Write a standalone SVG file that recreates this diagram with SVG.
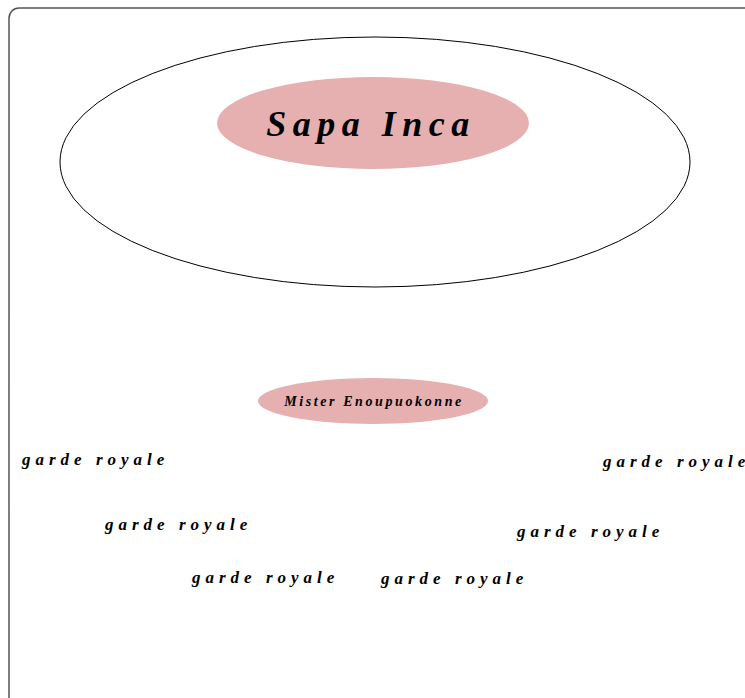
<svg xmlns="http://www.w3.org/2000/svg" width="745" height="698" viewBox="0 0 745 698">
<style>
.frame{fill:#fff;stroke:#555;stroke-width:1.5}
.outer{fill:none;stroke:#000;stroke-width:1}
.pink{fill:#e6b0b0;stroke:none}
.t{font-family:"Liberation Serif","DejaVu Serif",serif;font-style:italic;font-weight:bold;fill:#000}
.g{font-size:17px;letter-spacing:5px}
</style>
<rect width="745" height="698" fill="#fff"/>
<rect class="frame" x="9" y="8" width="760" height="720" rx="10" ry="10"/>
<g id="group-sapa">
<ellipse class="outer" cx="375" cy="162" rx="315" ry="125"/>
</g>
<g id="sapa-inca">
<ellipse class="pink" cx="373" cy="123" rx="156" ry="46"/>
<text class="t" x="371" y="136" font-size="36" letter-spacing="6.5" text-anchor="middle">Sapa Inca</text>
</g>
<g id="mister">
<ellipse class="pink" cx="373" cy="401" rx="115" ry="23"/>
<text class="t" x="374" y="406" font-size="14" letter-spacing="2.6" text-anchor="middle">Mister Enoupuokonne</text>
</g>
<g id="connectors"></g>
<g id="garde1"><text class="t g" x="22" y="465">garde royale</text></g>
<g id="garde2"><text class="t g" x="105" y="530">garde royale</text></g>
<g id="garde3"><text class="t g" x="192" y="583">garde royale</text></g>
<g id="garde4"><text class="t g" x="381" y="584">garde royale</text></g>
<g id="garde5"><text class="t g" x="517" y="537">garde royale</text></g>
<g id="garde6"><text class="t g" x="603" y="467">garde royale</text></g>
</svg>
